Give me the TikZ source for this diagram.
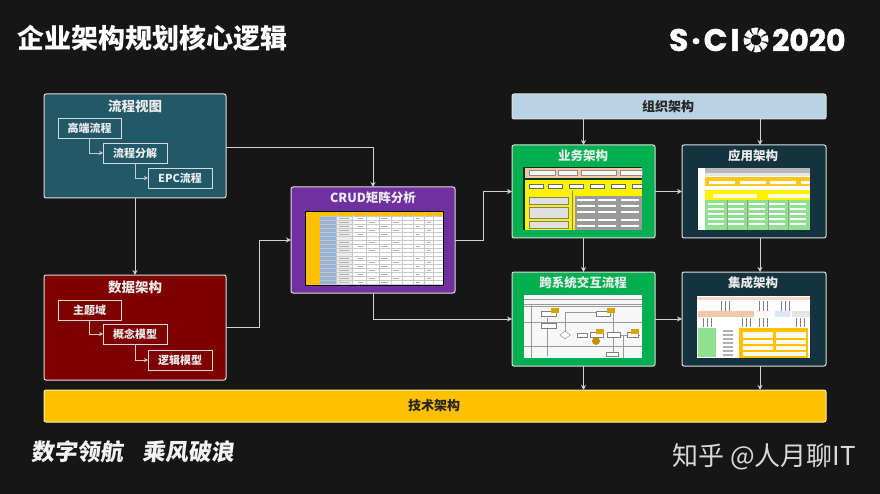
\documentclass[tikz,border=0pt]{standalone}
\usepackage{fontspec}
\setmainfont{Noto Sans CJK SC}
\newfontfamily\logofont[BoldFeatures={FakeBold=1.5,LetterSpace=10}]{Poppins}
\newfontfamily\yearfont[BoldFeatures={FakeBold=1.5}]{Poppins}
\usetikzlibrary{arrows.meta,calc}
\definecolor{bgc}{HTML}{161616}
\definecolor{tealc}{HTML}{215968}
\definecolor{redc}{HTML}{7F0000}
\definecolor{purc}{HTML}{7030A0}
\definecolor{grnc}{HTML}{00B050}
\definecolor{navc}{HTML}{15333E}
\definecolor{lblue}{HTML}{B9D3E4}
\definecolor{goldc}{HTML}{FFC000}
\definecolor{tyel}{HTML}{FFF200}
\definecolor{tpink}{HTML}{F2C6A6}
\definecolor{tgrey}{HTML}{9A9A9A}
\definecolor{tgrn}{HTML}{8FE08F}
\definecolor{tblu}{HTML}{8DB4E2}
\tikzset{
  x=1pt,y=-1pt,
  outer/.style={draw=#1,line width=1pt,rounded corners=2pt,inner sep=0,outer sep=0,anchor=north west},
  panel/.style={outer=white!88!black,fill=#1},
  inbox/.style={draw=white!85!black,line width=.9pt,inner sep=0,outer sep=0,text=white!92!black,font=\bfseries\fontsize{11}{11}\selectfont},
  ttl/.style={text=white!92!black,font=\bfseries\fontsize{13.5}{13.5}\selectfont,inner sep=0},
  sttl/.style={text=white!92!black,font=\bfseries\fontsize{12.5}{12.5}\selectfont,inner sep=0},
  band/.style={inner sep=0,text=black!85,font=\bfseries\fontsize{13}{13}\selectfont},
  link/.style={draw=white!82!black,line width=.9pt,-{Stealth[length=5pt,width=5pt]}},
  sublink/.style={draw=white!80!black,line width=.8pt,-{Stealth[length=4pt,width=4pt]}},
}
\begin{document}
\begin{tikzpicture}
\useasboundingbox[fill=bgc] (0,0) rectangle (880,494);

% header
\node[anchor=west,inner sep=0,text=white,font=\bfseries\fontsize{27}{27}\selectfont] (title) at (17,38) {企业架构规划核心逻辑};
\node[anchor=west,inner sep=0,text=white,font=\logofont\bfseries\fontsize{31}{31}\selectfont] (logoa) at (669,40) {S·CI};
\node[anchor=west,inner sep=0,text=white,font=\yearfont\bfseries\fontsize{30}{30}\selectfont] (logob) at (772,40) {2020};
\begin{scope}[shift={(756,40)}]
  \fill[white] (0,0) circle (12.5);
  \foreach \a in {0,45,...,315}
    \fill[bgc,rotate=\a] (4,-1.5) .. controls (7,-6) and (10,-7.5) .. (13.5,-6.5) -- (13.5,-5.2) .. controls (10,-5.5) and (7,-4) .. (4,-1.5) -- cycle;
  \fill[bgc] (0,0) circle (5.5);
\end{scope}

% footer
\node[anchor=west,inner sep=0,text=white!95!black,xslant=.12,font=\bfseries\fontsize{23}{24}\selectfont] (sloga) at (32,452) {数字领航};
\node[anchor=west,inner sep=0,text=white!95!black,xslant=.12,font=\bfseries\fontsize{23}{24}\selectfont] (slogb) at (143,452) {乘风破浪};
\node[anchor=west,inner sep=0,text=white!85!black,font=\fontsize{26}{27}\selectfont] (mark) at (672,457) {知乎 @人月聊IT};

% left panels
\node[panel=tealc,minimum width=182pt,minimum height=104pt] (flow) at (44,94) {};
\node[ttl] (flowt) at (135,106) {流程视图};
\node[inbox,minimum width=63pt,minimum height=20pt,fill=tealc] (f1) at (89.5,128) {高端流程};
\node[inbox,minimum width=64pt,minimum height=20pt,fill=tealc] (f2) at (135,153) {流程分解};
\node[inbox,minimum width=64pt,minimum height=20pt,fill=tealc] (f3) at (180,178) {EPC流程};
\draw[sublink] (f1.south) |- (f2.west);
\draw[sublink] (f2.south) |- (f3.west);

\node[panel=redc,minimum width=182pt,minimum height=105pt] (data) at (44,275) {};
\node[ttl] (datat) at (135,287) {数据架构};
\node[inbox,minimum width=63pt,minimum height=20pt,fill=redc] (d1) at (89.5,310) {主题域};
\node[inbox,minimum width=64pt,minimum height=20pt,fill=redc] (d2) at (135,334) {概念模型};
\node[inbox,minimum width=64pt,minimum height=20pt,fill=redc] (d3) at (180,360) {逻辑模型};
\draw[sublink] (d1.south) |- (d2.west);
\draw[sublink] (d2.south) |- (d3.west);

% CRUD
\node[panel=purc,minimum width=164pt,minimum height=106pt] (crud) at (291,187) {};
\node[sttl] (crudt) at (373,198) {CRUD矩阵分析};
\fill[white] (305,212) rectangle (443,285);
\fill[goldc] (305,212) rectangle (443,216);
\fill[goldc] (305,216) rectangle (320,285);
\fill[tblu] (320,216) rectangle (336,285);
\fill[white!92!black] (336,216) rectangle (352,285);
\foreach \r in {216,220,...,284} \draw[black!22,line width=.2pt] (320,\r) -- (443,\r);
\foreach \c in {336,352,366,379,391,402,413,424,433} \draw[black!22,line width=.2pt] (\c,212) -- (\c,285);
\foreach \r in {218,226,234,246,258,266,274,282} {
  \fill[black!30] (323,\r-.4) rectangle (333,\r+.4);
  \fill[black!30] (339,\r-.4) rectangle (349,\r+.4);
  \fill[black!30] (358,\r-.4) rectangle (363,\r+.4);
  \fill[black!30] (381,\r-.4) rectangle (388,\r+.4);
  \fill[black!30] (416,\r-.4) rectangle (420,\r+.4);
}
\foreach \r in {222,230,242,250,262,270,278} {
  \fill[black!30] (323,\r-.4) rectangle (333,\r+.4);
  \fill[black!30] (339,\r-.4) rectangle (349,\r+.4);
  \fill[black!30] (369,\r-.4) rectangle (375,\r+.4);
  \fill[black!30] (393,\r-.4) rectangle (399,\r+.4);
  \fill[black!30] (427,\r-.4) rectangle (431,\r+.4);
}
\draw[black,line width=.9pt] (305,211.5) rectangle (443.5,285);

% top and bottom bands
\node[outer=white!88!black,fill=lblue,minimum width=314pt,minimum height=25pt] (org) at (512,94) {};
\node[band] (orgt) at (668,106.5) {组织架构};
\node[outer=white!70!goldc,fill=goldc,minimum width=782pt,minimum height=32pt] (tech) at (44,390) {};
\node[band] (techt) at (434,406) {技术架构};

% business
\node[panel=grnc,minimum width=143pt,minimum height=93pt] (biz) at (512,145) {};
\node[sttl] (bizt) at (583,156) {业务架构};
\fill[black!70!grnc] (523,167) rectangle (642,230);
\fill[tpink] (525,168) rectangle (642,178);
\foreach \a/\b in {529/555,558/577,581/616,620/642} \draw[black!45,fill=white!85!tpink,line width=.3pt] (\a,170) rectangle (\b,175);
\fill[tyel] (525,180) rectangle (642,230);
\foreach \a in {529,548,569,590,611,632} \draw[black!60,fill=white,line width=.3pt] (\a,184) rectangle ({min(\a+14,642)},188);
\draw[black!50,line width=.3pt] (572,191) -- (572,230);
\draw[black!50,fill=white!88!black,line width=.4pt] (529,197) rectangle (568,204);
\draw[black!50,fill=white!88!black,line width=.4pt] (529,207) rectangle (568,218);
\draw[black!50,fill=white!88!black,line width=.4pt] (529,221) rectangle (568,228);
\fill[tgrey] (575,196) rectangle (642,230);
\foreach \a in {577,598,621} \foreach \b in {199,205,211,219,225} \fill[white] (\a,\b) rectangle ({min(\a+18,642)},\b+2);

% app
\node[panel=navc,minimum width=144pt,minimum height=93pt] (app) at (682,145) {};
\node[sttl] (appt) at (753,156) {应用架构};
\fill[white] (698,168) rectangle (810,230);
\fill[tgrey!70] (705,168) rectangle (810,173);
\fill[white!90!black] (705,173) rectangle (810,176);
\fill[goldc!90!white] (705,177) rectangle (810,186);
\foreach \a in {709,740,770,801} \fill[white] (\a,181) rectangle ({min(\a+26,810)},184);
\fill[tyel] (705,190) rectangle (810,200);
\fill[white!85!tyel] (713,194) rectangle (757,198);
\fill[white!85!tyel] (768,194) rectangle (810,198);
\fill[tgrn] (705,200) rectangle (810,230);
\foreach \a in {727,747,768,788} \draw[black!40,line width=.3pt] (\a,200) -- (\a,230);
\foreach \a in {708,728,749,769,790} \foreach \b in {203,208,213,218,223} \fill[white] (\a,\b) rectangle (\a+16,\b+2.5);

% cross-system flow
\node[panel=grnc,minimum width=143pt,minimum height=94pt] (cross) at (512,272) {};
\node[sttl] (crosst) at (583,283) {跨系统交互流程};
\fill[white!97!black] (524,295) rectangle (642,358);
\foreach \b in {299,304,306,322,346} \draw[black!40,line width=.35pt] (524,\b) -- (642,\b);
\draw[black!40,line width=.35pt] (531,304) -- (531,358);
\draw[black!40,line width=.6pt] (547,318) -- (547,356) (565,333) -- (565,312) -- (600,312) (604,312) -- (613,312) -- (613,352) (623,335) -- (623,358) (640,335) -- (618,335);
\draw[black!50,line width=.5pt,fill=white] (541,311) rectangle (556,316);
\draw[black!50,line width=.5pt,fill=white] (541,323) rectangle (556,328);
\draw[black!50,fill=white,line width=.4pt] (560,335) -- (565,331) -- (570,335) -- (565,339) -- cycle;
\draw[black!50,fill=white,line width=.4pt] (577,333) rectangle (587,337);
\draw[black!50,fill=white,line width=.4pt] (590,332) rectangle (603,337);
\draw[black!50,fill=white,line width=.4pt] (607,332) rectangle (620,337);
\draw[black!50,fill=white,line width=.4pt] (627,332) rectangle (638,337);
\draw[black!50,fill=white,line width=.4pt] (596,311) rectangle (610,316);
\draw[black!50,fill=white,line width=.4pt] (606,352) rectangle (618,356);
\foreach \a/\b in {555/310,611/310,600/331,635/331} \fill[goldc!85!black] (\a-4,\b-2.5) rectangle (\a+4,\b+2.5);
\fill[goldc!75!black] (596,341) circle (4);

% integration
\node[panel=navc,minimum width=144pt,minimum height=94pt] (integ) at (682,272) {};
\node[sttl] (integt) at (753,283) {集成架构};
\fill[white] (697,296) rectangle (810,358);
\fill[tpink!70!white] (697,297) rectangle (810,300);
\fill[tpink] (698,311) rectangle (754,317);
\fill[white!90!tpink] (756,311) rectangle (771,317);
\fill[tblu!35!white] (775,311) rectangle (790,317);
\fill[white!90!black] (792,311) rectangle (810,317);
\foreach \a in {721,725,729,759,763,767,781,785,789} \draw[black!50,line width=.4pt] (\a,301) -- (\a,311);
\foreach \a in {703,707,711,742,746,750,759,763,767,796,800,804} \draw[black!50,line width=.4pt] (\a,318) -- (\a,327);
\fill[tgrn] (698,328) rectangle (716,357);
\foreach \b in {330,334,338,342,346,350,354} \fill[black!30] (723,\b) rectangle (733,\b+1.5);
\fill[goldc] (739,328) rectangle (808,358);
\foreach \a/\b/\w/\h in {743/332/30/6,776/332/30/6,743/340/30/4,776/340/30/4,743/346/30/4,776/346/30/4,743/352/63/4}
  \fill[white!92!goldc] (\a,\b) rectangle (\a+\w,\b+\h);

% connectors
\coordinate (cx) at (760,0);
\coordinate (j1) at (373,147);
\draw[link] (flow.east |- j1) -- (j1) -- (crud.north);
\draw[link] (flow.south) -- (data.north);
\coordinate (j2) at (259,327);
\draw[link] (data.east |- j2) -- (j2) |- (crud.west);
\coordinate (j4) at (483,240);
\draw[link,rounded corners=0pt] (crud.east) -- (j4) |- (biz.west);
\coordinate (j6) at (373,319);
\draw[link] (crud.south) -- (j6) -- (cross.west);
\draw[link] (org.south -| biz.north) -- (biz.north);
\draw[link] (org.south -| cx) -- (app.north -| cx);
\draw[link] (biz.south) -- (cross.north);
\draw[link] (app.south -| cx) -- (integ.north -| cx);
\draw[link] (biz.east) -- (app.west);
\draw[link] (cross.east) -- (integ.west);
\draw[link] (cross.south) -- (tech.north -| cross.south);
\draw[link] (integ.south -| cx) -- (tech.north -| cx);
\end{tikzpicture}
\end{document}
